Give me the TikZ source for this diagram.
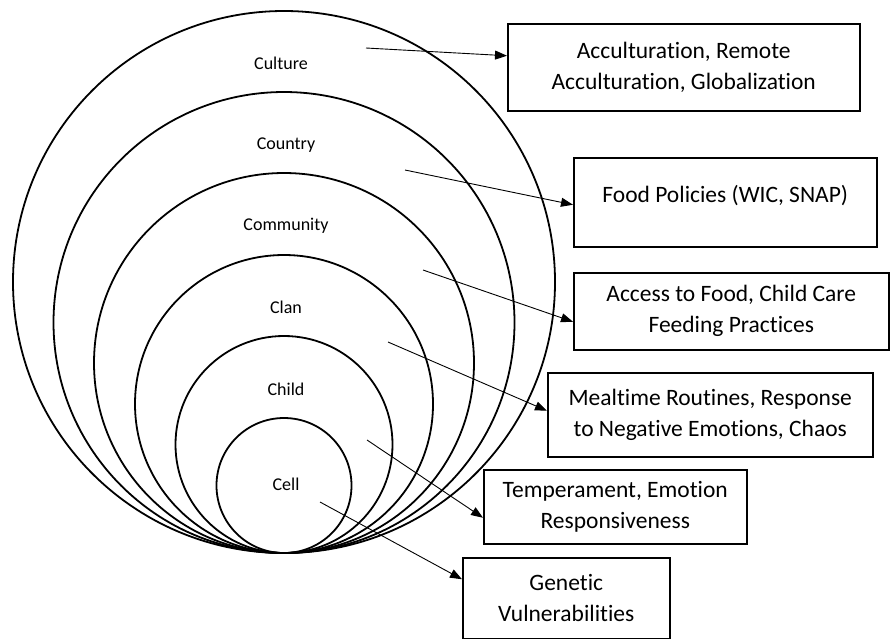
\documentclass[tikz,border=0pt]{standalone}
\usepackage{fontspec}
\setmainfont{Carlito}[Ligatures=NoCommon]
\usetikzlibrary{arrows.meta,positioning}

\begin{document}
\begin{tikzpicture}[x=1pt,y=-1pt,>={Triangle[length=12pt,width=9pt]}]
  \tikzstyle{ring}=[circle,draw,line width=1.8pt,inner sep=0pt,outer sep=0pt,anchor=south]
  \tikzstyle{lbl}=[anchor=base,font=\fontsize{18}{22}\selectfont]
  \tikzstyle{factor}=[draw,line width=1.5pt,anchor=north west,align=center,inner sep=0pt,font=\fontsize{23.5}{31}\selectfont]
  \tikzstyle{link}=[->,line width=0.9pt]

  \useasboundingbox (0,0) rectangle (890,638);
  \coordinate (base) at (284,553);

  % nested rings, all touching at the bottom
  \node[ring,minimum size=542pt] (culture) at (base) {};
  \node[ring,minimum size=461pt] (country) at (base) {};
  \node[ring,minimum size=380pt] (community) at (base) {};
  \node[ring,minimum size=298pt] (clan) at (base) {};
  \node[ring,minimum size=217pt] (child) at (base) {};
  \node[ring,minimum size=135pt] (cell) at (base) {};

  \node[lbl] (culture-lbl) at (281,69) {Culture};
  \node[lbl] (country-lbl) at (286,149) {Country};
  \node[lbl] (community-lbl) at (286,230) {Community};
  \node[lbl] (clan-lbl) at (286,313) {Clan};
  \node[lbl] (child-lbl) at (286,395) {Child};
  \node[lbl] (cell-lbl) at (286,490) {Cell};

  % influences
  \node[factor,minimum width=352pt,minimum height=87pt] (culture-box) at (507,23)
    {Acculturation, Remote\\Acculturation, Globalization};
  \node[factor,minimum width=303pt,text height=45pt,text depth=44pt] (country-box) at (573,157)
    {Food Policies (WIC, SNAP)};
  \node[factor,minimum width=315pt,minimum height=77pt] (community-box) at (573,272)
    {Access to Food, Child Care\\Feeding Practices};
  \node[factor,minimum width=325pt,minimum height=84pt] (clan-box) at (547,372)
    {Mealtime Routines, Response\\to Negative Emotions, Chaos};
  \node[factor,minimum width=263pt,minimum height=74pt] (child-box) at (483,469)
    {Temperament, Emotion\\Responsiveness};
  \node[factor,minimum width=207pt,minimum height=81pt] (cell-box) at (462,557)
    {Genetic\\Vulnerabilities};

  \coordinate (culture-from) at (366,48);
  \coordinate (country-from) at (405,170);
  \coordinate (community-from) at (423,270);
  \coordinate (clan-from) at (388,342);
  \coordinate (child-from) at (367,440);
  \coordinate (cell-from) at (320,502);

  \path[link]
    (culture-from) edge ([yshift=11.5pt]culture-box.west)
    (country-from) edge ([yshift=-2.5pt]country-box.west)
    (community-from) edge ([yshift=-10.5pt]community-box.west)
    (clan-from) edge ([yshift=4pt]clan-box.west)
    (child-from) edge ([yshift=-11pt]child-box.west)
    (cell-from) edge ([yshift=19pt]cell-box.west);
\end{tikzpicture}
\end{document}
